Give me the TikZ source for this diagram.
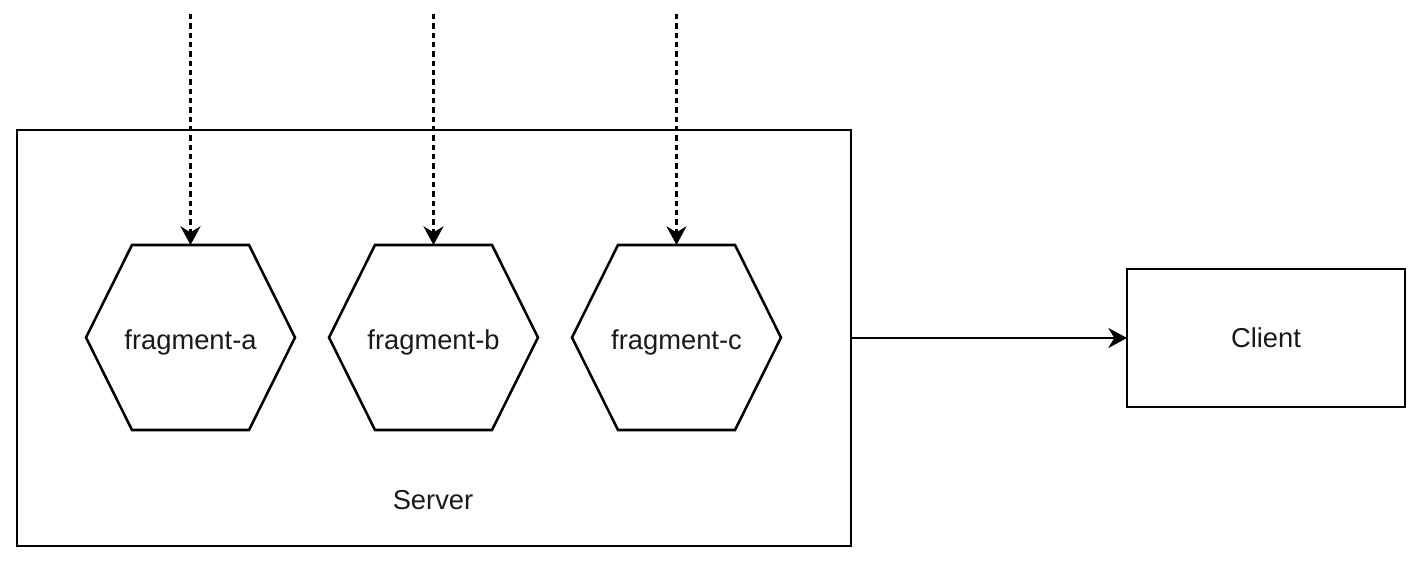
\documentclass[tikz,border=0pt]{standalone}
\usepackage{fontspec}
\setmainfont{Liberation Sans}
\usetikzlibrary{arrows.meta,calc}
\tikzset{
  box/.style={draw=black, line width=1.9pt, inner sep=0pt, outer sep=0pt},
  hexbox/.style={inner sep=0pt, outer sep=0pt, minimum width=156.75pt, minimum height=138.75pt},
  hexline/.style={draw=black, line width=1.9pt, line join=miter},
  lbl/.style={font=\fontsize{20.5}{24}\selectfont, text=black!90},
  dasharrow/.style={line width=1.9pt, dash pattern=on 4pt off 3pt, -{Stealth[length=14pt,width=15pt,inset=4.5pt]}},
  solidarrow/.style={line width=1.9pt, -{Stealth[length=14pt,width=15pt,inset=4.5pt]}}
}
\begin{document}
\begin{tikzpicture}[x=0.75pt,y=-0.75pt]
\useasboundingbox (0,0) rectangle (1424,566);
% server box
\node[box, minimum width=625.5pt, minimum height=312pt] (server) at (434,338) {};
\node[lbl] (serverlbl) at (433,500) {Server};
% client
\node[box, minimum width=208.5pt, minimum height=103.5pt, lbl] (client) at (1266,338) {Client};
% hexagons
\foreach \n/\cx/\t in {fa/190.5/fragment-a, fb/433.5/fragment-b, fc/676.5/fragment-c}{
  \node[hexbox] (\n) at (\cx,337.5) {};
  \node[lbl] (\n l) at (\cx,342) {\t};
  \draw[hexline] (\n.west) -- ($(\n.north west)+(46,0)$) -- ($(\n.north east)+(-46,0)$) -- (\n.east) -- ($(\n.south east)+(-46,0)$) -- ($(\n.south west)+(46,0)$) -- cycle;
}
% sources
\coordinate (sa) at (190.5,14);
\coordinate (sb) at (433.5,14);
\coordinate (sc) at (676.5,14);
\draw[dasharrow] (sa) -- (fa.north);
\draw[dasharrow] (sb) -- (fb.north);
\draw[dasharrow] (sc) -- (fc.north);
\draw[solidarrow] (server.east) -- (client.west);
\end{tikzpicture}
\end{document}
